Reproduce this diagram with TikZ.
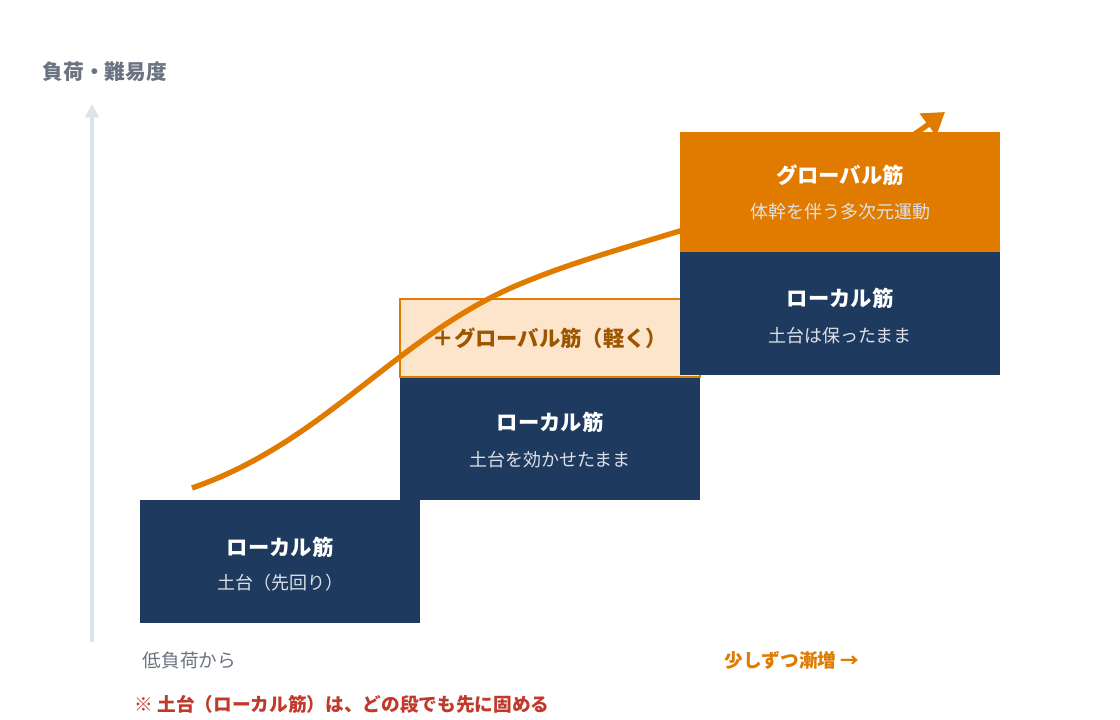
\documentclass[tikz,border=0pt]{standalone}
\usepackage{fontspec}
\setmainfont{Noto Sans CJK JP}
\usetikzlibrary{arrows.meta}
\definecolor{navy}{HTML}{1F3A5F}
\definecolor{accent}{HTML}{E07B00}
\definecolor{pale}{HTML}{FDE5CC}
\definecolor{axisgray}{HTML}{DDE3EA}
\definecolor{textgray}{HTML}{6B7280}
\definecolor{warn}{HTML}{C0392B}
\tikzset{
    step box/.style={fill=navy,draw=none,inner sep=0},
    head text/.style={text=white,font=\fontsize{16}{18}\selectfont\bfseries},
    sub text/.style={text=white!85!navy,font=\fontsize{13.5}{16}\selectfont},
    note text/.style={font=\fontsize{14}{16}\selectfont}
    }
\begin{document}
\begin{tikzpicture}[x=0.75pt,y=-0.75pt]
    \useasboundingbox (0,0) rectangle (1120,720);
    % axis
    \coordinate (axis0) at (92,642);
    \coordinate (axis1) at (92,104);
    \draw[axisgray,line width=3pt,-{Triangle[length=10pt,width=10pt]}] (axis0) -- (axis1);
    \node(ylabel)[text=textgray,note text,font=\fontsize{15.5}{18}\selectfont\bfseries,anchor=west] at (38,72){負荷・難易度};
    % steps
    \fill[step box] (140,500) rectangle (420,623);
    \node(b1h)[head text] at (280,547){ローカル筋};
    \node(b1s)[sub text] at (280,583){土台（先回り）};
    \fill[step box] (400,377) rectangle (700,500);
    \node(b2h)[head text] at (550,422){ローカル筋};
    \node(b2s)[sub text] at (550,460){土台を効かせたまま};
    \draw[accent,fill=pale,line width=2pt] (400,299) rectangle (700,377);
    \node(b2g)[text=accent!70!black,font=\fontsize{16}{18}\selectfont\bfseries] at (550,338){＋グローバル筋（軽く）};
    % curve
    \coordinate (c0) at (192,488);
    \coordinate (c1) at (945,112);
    \draw[accent,line width=4pt,-{Triangle[length=16pt,width=20pt]}] (c0)
        .. controls (330,440) and (400,330) .. (530,280)
        .. controls (640,235) and (820,205) .. (c1);
    \fill[step box] (680,252) rectangle (1000,375);
    \node(b3h)[head text] at (840,298){ローカル筋};
    \node(b3s)[sub text] at (840,336){土台は保ったまま};
    \fill[accent] (680,132) rectangle (1000,252);
    \node(b3g)[head text] at (840,175){グローバル筋};
    \node(b3t)[text=white!90!accent,sub text] at (840,212){体幹を伴う多次元運動};
    % notes
    \node(low)[text=textgray,note text,anchor=west] at (138,660){低負荷から};
    \node(up)[text=accent,note text,font=\fontsize{14}{16}\selectfont\bfseries,anchor=west] at (720,660){少しずつ漸増 →};
    \node(warnnote)[text=warn,note text,font=\fontsize{14}{16}\selectfont\bfseries,anchor=west] at (130,704){※ 土台（ローカル筋）は、どの段でも先に固める};
\end{tikzpicture}
\end{document}
